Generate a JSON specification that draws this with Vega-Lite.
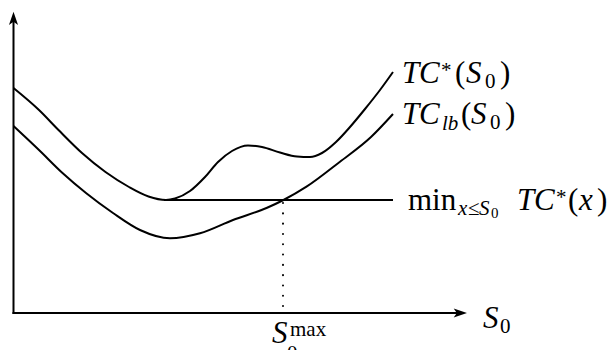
{
  "$schema": "https://vega.github.io/schema/vega-lite/v6.json",
  "width": 611,
  "height": 350,
  "autosize": {"type": "none"},
  "padding": 0,
  "background": "white",
  "config": {"view": {"stroke": null}},
  "datasets": {
    "curves": [
      {"series": "TC*", "X": 0, "Y": 225},
      {"series": "TC*", "X": 25.5, "Y": 203},
      {"series": "TC*", "X": 45, "Y": 183},
      {"series": "TC*", "X": 68.5, "Y": 160},
      {"series": "TC*", "X": 92, "Y": 141},
      {"series": "TC*", "X": 115.5, "Y": 126},
      {"series": "TC*", "X": 135, "Y": 116.5},
      {"series": "TC*", "X": 152.5, "Y": 113},
      {"series": "TC*", "X": 161.5, "Y": 114.5},
      {"series": "TC*", "X": 176.5, "Y": 122},
      {"series": "TC*", "X": 191.5, "Y": 136},
      {"series": "TC*", "X": 204.5, "Y": 151},
      {"series": "TC*", "X": 218.5, "Y": 162},
      {"series": "TC*", "X": 234.5, "Y": 167.5},
      {"series": "TC*", "X": 248.5, "Y": 166},
      {"series": "TC*", "X": 266.5, "Y": 160.5},
      {"series": "TC*", "X": 283.5, "Y": 156.5},
      {"series": "TC*", "X": 296.5, "Y": 156},
      {"series": "TC*", "X": 308.5, "Y": 160},
      {"series": "TC*", "X": 322.5, "Y": 171},
      {"series": "TC*", "X": 336.5, "Y": 186},
      {"series": "TC*", "X": 351.5, "Y": 204},
      {"series": "TC*", "X": 366.5, "Y": 223},
      {"series": "TC*", "X": 379.5, "Y": 241},
      {"series": "TClb", "X": 0, "Y": 187},
      {"series": "TClb", "X": 25.5, "Y": 163},
      {"series": "TClb", "X": 49, "Y": 140},
      {"series": "TClb", "X": 72.5, "Y": 120},
      {"series": "TClb", "X": 99.5, "Y": 100},
      {"series": "TClb", "X": 126.5, "Y": 83},
      {"series": "TClb", "X": 156.5, "Y": 74.7},
      {"series": "TClb", "X": 186.5, "Y": 79.7},
      {"series": "TClb", "X": 219.5, "Y": 93},
      {"series": "TClb", "X": 253, "Y": 105},
      {"series": "TClb", "X": 270, "Y": 113},
      {"series": "TClb", "X": 293, "Y": 126.3},
      {"series": "TClb", "X": 326.5, "Y": 151.3},
      {"series": "TClb", "X": 357.5, "Y": 176},
      {"series": "TClb", "X": 379.5, "Y": 199},
      {"series": "min", "X": 150.5, "Y": 113},
      {"series": "min", "X": 379.5, "Y": 113}
    ],
    "axes": [
      {"X": 0, "Y": 0, "X2": 447, "Y2": 0},
      {"X": 0, "Y": 0, "X2": 0, "Y2": 293}
    ],
    "arrows": [
      {"dir": "up", "X": 0, "Y": 294.3},
      {"dir": "right", "X": 446.5, "Y": 0}
    ],
    "smax": [
      {"X": 269.5, "Y": 110, "Y2": 5}
    ],
    "labels": [
      {"kind": "it", "text": "T", "X": 388.5, "Y": 230},
      {"kind": "it", "text": "C", "X": 405.5, "Y": 230},
      {"kind": "small", "text": "*", "X": 427.5, "Y": 236},
      {"kind": "rm", "text": "(", "X": 441.5, "Y": 230},
      {"kind": "it", "text": "S", "X": 452.5, "Y": 230},
      {"kind": "small", "text": "0", "X": 471.5, "Y": 225},
      {"kind": "rm", "text": ")", "X": 486.5, "Y": 230},
      {"kind": "it", "text": "T", "X": 388.5, "Y": 189},
      {"kind": "it", "text": "C", "X": 405.5, "Y": 189},
      {"kind": "itsmall", "text": "lb", "X": 428.5, "Y": 183},
      {"kind": "rm", "text": "(", "X": 447.5, "Y": 189},
      {"kind": "it", "text": "S", "X": 457.5, "Y": 189},
      {"kind": "small", "text": "0", "X": 476.5, "Y": 184},
      {"kind": "rm", "text": ")", "X": 491.5, "Y": 189},
      {"kind": "rm", "text": "min", "X": 394.5, "Y": 103},
      {"kind": "itsmall", "text": "x", "X": 444.5, "Y": 98},
      {"kind": "small", "text": "≤", "X": 454.5, "Y": 98},
      {"kind": "itsmall", "text": "S", "X": 465.5, "Y": 98},
      {"kind": "tiny", "text": "0", "X": 477.5, "Y": 95},
      {"kind": "it", "text": "T", "X": 503.5, "Y": 103},
      {"kind": "it", "text": "C", "X": 520.5, "Y": 103},
      {"kind": "small", "text": "*", "X": 542.5, "Y": 109},
      {"kind": "rm", "text": "(", "X": 554.5, "Y": 103},
      {"kind": "it", "text": "x", "X": 565.5, "Y": 103},
      {"kind": "rm", "text": ")", "X": 583.5, "Y": 103},
      {"kind": "it", "text": "S", "X": 469.5, "Y": -15},
      {"kind": "small", "text": "0", "X": 486.5, "Y": -20},
      {"kind": "it", "text": "S", "X": 258.5, "Y": -30},
      {"kind": "small", "text": "max", "X": 276.5, "Y": -23},
      {"kind": "small", "text": "0", "X": 273.5, "Y": -47}
    ]
  },
  "encoding": {
    "x": {"field": "X", "type": "quantitative", "scale": {"domain": [-13.5, 597.5], "nice": false, "zero": false}, "axis": null},
    "y": {"field": "Y", "type": "quantitative", "scale": {"domain": [-37, 313], "nice": false, "zero": false}, "axis": null}
  },
  "layer": [
    {
      "data": {"name": "curves"},
      "mark": {"type": "line", "interpolate": "monotone", "color": "black", "strokeWidth": 2},
      "encoding": {"detail": {"field": "series"}}
    },
    {
      "data": {"name": "axes"},
      "mark": {"type": "rule", "color": "black", "strokeWidth": 2, "strokeCap": "square"},
      "encoding": {"x2": {"field": "X2"}, "y2": {"field": "Y2"}}
    },
    {
      "data": {"name": "smax"},
      "mark": {"type": "rule", "color": "black", "strokeWidth": 2, "strokeCap": "round", "strokeDash": [0.1, 10.2]},
      "encoding": {"y2": {"field": "Y2"}}
    },
    {
      "data": {"name": "arrows"},
      "mark": {"type": "point", "filled": true, "color": "black", "size": 196, "opacity": 1, "strokeWidth": 0},
      "encoding": {
        "shape": {"field": "dir", "type": "nominal", "legend": null,
          "scale": {"domain": ["up", "right"], "range": ["M0,-1 L0.65,0.9 L0,0.45 L-0.65,0.9 Z", "M1,0 L-0.9,0.65 L-0.45,0 L-0.9,-0.65 Z"]}}
      }
    },
    {
      "data": {"name": "labels"},
      "transform": [{"filter": "datum.kind == 'it'"}],
      "mark": {"type": "text", "font": "Liberation Serif", "fontStyle": "italic", "fontSize": 31, "align": "left", "baseline": "alphabetic", "color": "black"},
      "encoding": {"text": {"field": "text"}}
    },
    {
      "data": {"name": "labels"},
      "transform": [{"filter": "datum.kind == 'rm'"}],
      "mark": {"type": "text", "font": "Liberation Serif", "fontSize": 31, "align": "left", "baseline": "alphabetic", "color": "black"},
      "encoding": {"text": {"field": "text"}}
    },
    {
      "data": {"name": "labels"},
      "transform": [{"filter": "datum.kind == 'small'"}],
      "mark": {"type": "text", "font": "Liberation Serif", "fontSize": 21, "align": "left", "baseline": "alphabetic", "color": "black"},
      "encoding": {"text": {"field": "text"}}
    },
    {
      "data": {"name": "labels"},
      "transform": [{"filter": "datum.kind == 'itsmall'"}],
      "mark": {"type": "text", "font": "Liberation Serif", "fontStyle": "italic", "fontSize": 21, "align": "left", "baseline": "alphabetic", "color": "black"},
      "encoding": {"text": {"field": "text"}}
    },
    {
      "data": {"name": "labels"},
      "transform": [{"filter": "datum.kind == 'tiny'"}],
      "mark": {"type": "text", "font": "Liberation Serif", "fontSize": 15, "align": "left", "baseline": "alphabetic", "color": "black"},
      "encoding": {"text": {"field": "text"}}
    }
  ]
}
